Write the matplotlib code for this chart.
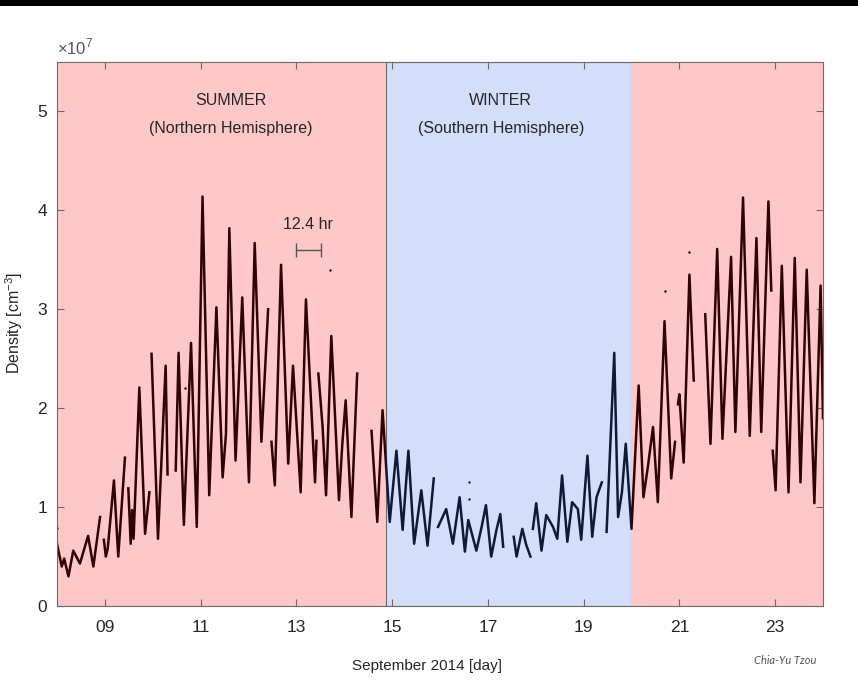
import numpy as np
import matplotlib
matplotlib.use("Agg")
import matplotlib.pyplot as plt
from matplotlib.patches import Rectangle

plt.rcParams['font.family'] = ['Liberation Sans', 'DejaVu Sans']
plt.rcParams['mathtext.fontset'] = 'custom'
plt.rcParams['mathtext.rm'] = 'Liberation Sans'

nan = np.nan

# density trace (day of September 2014, 1e7 cm^-3); nan = data gap
days = [8.00, 8.10, 8.15, 8.24, 8.34, 8.48, 8.65, 8.76, 8.90, nan,
        8.98, 9.02, 9.06, 9.19, 9.28, 9.42, nan,
        9.49, 9.54, 9.57, 9.60, 9.72, 9.84, 9.93, nan,
        9.975, 10.11, 10.27, 10.31, nan,
        10.48, 10.54, 10.65, 10.80, 10.92, 11.04, 11.18, 11.33, 11.46, 11.53,
        11.60, 11.73, 11.87, 12.01, 12.13, 12.27, 12.41, nan,
        12.48, 12.55, 12.68, 12.83, 12.93, 13.09, 13.20, 13.39, 13.42, nan,
        13.46, 13.55, 13.62, 13.73, 13.89, 13.96, 14.03, 14.15, 14.27, nan,
        14.57, 14.69, 14.80, 14.95, 15.09, 15.22, 15.34, 15.46, 15.61, 15.74, 15.87, nan,
        15.96, 16.13, 16.27, 16.41, 16.52, 16.59, 16.76, 16.87, 16.96, 17.07,
        17.18, 17.26, 17.32, nan,
        17.54, 17.60, 17.72, 17.80, 17.89, nan,
        17.94, 18.01, 18.12, 18.22, 18.36, 18.45, 18.55, 18.66, 18.76, 18.88,
        18.95, 19.08, 19.18, 19.27, 19.38, nan,
        19.48, 19.64, 19.72, 19.80, 19.88, 20.00, 20.15, 20.25, 20.34, 20.45,
        20.55, 20.69, 20.83, 20.91, nan,
        20.97, 21.00, 21.09, 21.21, 21.30, nan,
        21.54, 21.65, 21.79, 21.90, 22.08, 22.17, 22.33, 22.47, 22.61, 22.71,
        22.86, 22.92, nan,
        22.95, 23.01, 23.14, 23.28, 23.41, 23.53, 23.66, 23.82, 23.95, 24.00]
density = [0.63, 0.40, 0.48, 0.30, 0.56, 0.43, 0.71, 0.40, 0.90, nan,
           0.67, 0.50, 0.58, 1.27, 0.50, 1.50, nan,
           1.19, 0.63, 0.97, 0.68, 2.21, 0.73, 1.15, nan,
           2.55, 0.68, 2.43, 1.33, nan,
           1.37, 2.56, 0.82, 2.66, 0.80, 4.14, 1.12, 3.02, 1.30, 1.74,
           3.82, 1.47, 3.12, 1.25, 3.67, 1.66, 3.00, nan,
           1.66, 1.22, 3.45, 1.44, 2.43, 1.15, 3.10, 1.25, 1.67, nan,
           2.35, 1.80, 1.12, 2.73, 1.07, 1.64, 2.08, 0.90, 2.35, nan,
           1.77, 0.85, 1.98, 0.85, 1.57, 0.77, 1.57, 0.63, 1.17, 0.61, 1.29, nan,
           0.80, 0.98, 0.63, 1.10, 0.55, 0.87, 0.56, 0.80, 1.02, 0.50,
           0.77, 0.93, 0.60, nan,
           0.70, 0.50, 0.78, 0.62, 0.50, nan,
           0.78, 1.04, 0.56, 0.92, 0.80, 0.68, 1.32, 0.65, 1.05, 0.98,
           0.67, 1.52, 0.70, 1.10, 1.25, nan,
           0.75, 2.56, 0.90, 1.15, 1.64, 0.78, 2.23, 1.10, 1.40, 1.81,
           1.05, 2.88, 1.29, 1.66, nan,
           2.04, 2.14, 1.45, 3.35, 2.28, nan,
           2.95, 1.64, 3.61, 1.69, 3.53, 1.76, 4.13, 1.72, 3.72, 1.76,
           4.09, 3.19, nan,
           1.57, 1.17, 3.44, 1.15, 3.52, 1.25, 3.40, 1.04, 3.24, 1.90]

# isolated points
stray_days = [8.00, 10.67, 13.70, 16.60, 16.60, 20.69, 21.21]
stray_density = [0.79, 2.20, 3.40, 1.25, 1.08, 3.18, 3.58]

# season boundaries (days)
winter_start = 14.87
winter_end = 20.0

summer_bg = '#ffc8c8'
winter_bg = '#d4defa'
summer_dot = '#2e0404'
winter_dot = '#0e1a38'
text_col = '#262626'

fig = plt.figure(figsize=(8.58, 6.95), dpi=100)
ax = fig.add_axes([0.0664, 0.128, 0.8928, 0.7828])

ax.axvspan(8, winter_start, color=summer_bg, lw=0, zorder=0)
ax.axvspan(winter_start, winter_end, facecolor=winter_bg, edgecolor='#6b6b6b', lw=0.8, zorder=0)
ax.axvspan(winter_end, 24, color=summer_bg, lw=0, zorder=0)

d = np.array(days)
v = np.array(density)
sd = np.array(stray_days)
sv = np.array(stray_density)
spans = [(8, winter_start, summer_dot), (winter_start, winter_end, winter_dot),
         (winter_end, 24, summer_dot)]
for lo, hi, col in spans:
    line, = ax.plot(d, v, color=col, lw=1.8, solid_joinstyle='round', zorder=2)
    clip = Rectangle((lo, -1), hi - lo, 10, transform=ax.transData)
    line.set_clip_path(clip)
    m = (sd >= lo) & (sd < hi)
    ax.scatter(sd[m], sv[m], s=3, color=col, lw=0, zorder=2)

ax.set_xlim(8, 24)
ax.set_ylim(0, 5.5)
ax.set_xticks([9, 11, 13, 15, 17, 19, 21, 23])
ax.set_xticklabels(['09', '11', '13', '15', '17', '19', '21', '23'])
ax.set_yticks([0, 1, 2, 3, 4, 5])
ax.tick_params(direction='in', length=5, width=0.8, top=True, right=True,
               labelsize=12.5, colors='#6b6b6b', labelcolor=text_col, pad=7)
ax.tick_params(axis='x', pad=10)
for s in ax.spines.values():
    s.set_color('#6b6b6b')
    s.set_linewidth(0.8)

ax.set_xlabel('September 2014 [day]', fontsize=11, color=text_col)
ax.xaxis.set_label_coords(0.483, -0.097)
ax.set_ylabel('Density [cm$^{-3}$]', fontsize=11.5, color=text_col)
ax.yaxis.set_label_coords(-0.042, 0.52)
ax.text(0.0, 1.008, r'$\times10^{7}$', transform=ax.transAxes, fontsize=12,
        color='#555555', ha='left', va='bottom')

ax.text(11.63, 4.97, 'SUMMER\n(Northern Hemisphere)', ha='center', va='center',
        fontsize=11.5, color=text_col, linespacing=2.1)
ax.text(17.27, 4.97, 'WINTER\n(Southern Hemisphere)', ha='center', va='center',
        fontsize=11.5, color=text_col, linespacing=2.1)

# 12.4 hr scale bar
ax.errorbar([13.0 + 0.5 * 12.4 / 24], [3.60], xerr=[0.5 * 12.4 / 24], color='#555555',
            lw=1.0, capsize=5, capthick=1.0, zorder=3)
ax.text(13.25, 3.78, '12.4 hr', ha='center', va='bottom', fontsize=11.5, color=text_col)

fig.text(0.915, 0.05, 'Chia-Yu Tzou', fontsize=8, style='italic', color='#555555',
         ha='center', va='center', family=['Lato', 'DejaVu Sans'])

fig.patches.append(Rectangle((0, 1 - 6 / 695), 1, 6 / 695, transform=fig.transFigure,
                             facecolor='black', edgecolor='none'))

fig.savefig('out.png', dpi=100)
